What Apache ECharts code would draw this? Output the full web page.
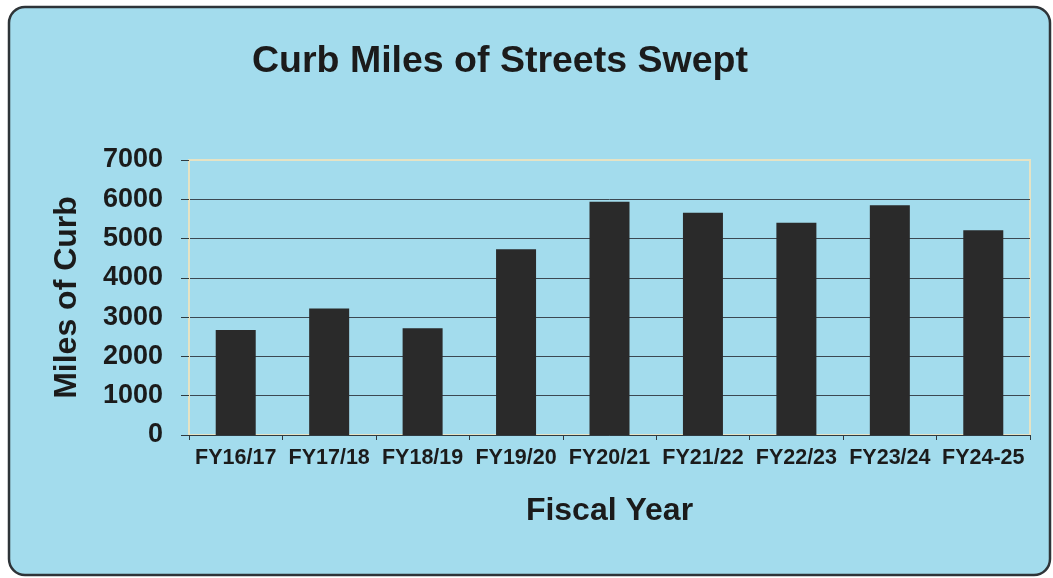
<!DOCTYPE html>
<html>
<head>
<meta charset="utf-8">
<title>Curb Miles of Streets Swept</title>
<script src="https://cdn.jsdelivr.net/npm/echarts@6/dist/echarts.min.js"></script>
<style>
  html, body { margin: 0; padding: 0; background: #ffffff; }
  #chart { width: 1053px; height: 578px; }
</style>
</head>
<body>
<div id="chart"></div>
<script>
// Fiscal years and curb miles swept in each
const fiscalYears = ['FY16/17', 'FY17/18', 'FY18/19', 'FY19/20', 'FY20/21', 'FY21/22', 'FY22/23', 'FY23/24', 'FY24-25'];
const curbMiles = [2670, 3220, 2715, 4730, 5935, 5655, 5400, 5850, 5215];
const yTicks = [0, 1000, 2000, 3000, 4000, 5000, 6000, 7000];

const FONT = '"Liberation Sans", Arial, sans-serif';
const INK = '#1b1b1b';

const chart = echarts.init(document.getElementById('chart'), null, { renderer: 'canvas' });

// gridlines are dark except the top one, which is part of the pale plot frame
const splitColors = yTicks.map((v, i) => (i === yTicks.length - 1 ? '#e6e3c4' : '#3b4852'));

chart.setOption({
  backgroundColor: '#ffffff',
  animation: false,
  graphic: [{
    type: 'rect',
    z: -10,
    silent: true,
    shape: { x: 9, y: 7, width: 1041, height: 568, r: 16 },
    style: { fill: '#a3dced', stroke: '#2e3438', lineWidth: 2.5 }
  }],
  title: {
    text: 'Curb Miles of Streets Swept',
    left: 247,
    top: 38,
    textStyle: { fontFamily: FONT, fontWeight: 'bold', fontSize: 37.5, color: INK }
  },
  grid: {
    left: 189,
    right: 23,
    top: 160,
    bottom: 143,
    show: true,
    backgroundColor: 'transparent',
    borderColor: '#e6e3c4',
    borderWidth: 2
  },
  xAxis: {
    type: 'category',
    data: fiscalYears,
    name: 'Fiscal Year',
    nameLocation: 'middle',
    nameGap: 60,
    nameTextStyle: { fontFamily: FONT, fontWeight: 'bold', fontSize: 32, color: INK },
    axisLine: { show: true, lineStyle: { color: '#2f3a40', width: 1 } },
    axisTick: { show: true, length: 5, lineStyle: { color: '#2f3a40' } },
    axisLabel: {
      interval: 0,
      hideOverlap: false,
      margin: 12,
      fontFamily: FONT,
      fontWeight: 'bold',
      fontSize: 21.5,
      color: INK
    }
  },
  yAxis: {
    type: 'value',
    min: 0,
    max: 7000,
    interval: 1000,
    name: 'Miles of Curb',
    nameLocation: 'middle',
    nameGap: 106,
    nameTextStyle: { fontFamily: FONT, fontWeight: 'bold', fontSize: 32, color: INK },
    axisLine: { show: true, lineStyle: { color: '#e6e3c4', width: 2 } },
    axisTick: { show: true, inside: false, length: 8, lineStyle: { color: '#2f3a40' } },
    axisLabel: {
      margin: 26,
      fontFamily: FONT,
      fontWeight: 'bold',
      fontSize: 27,
      color: INK,
      formatter: (v) => String(v)
    },
    splitLine: { show: true, lineStyle: { color: splitColors, width: 1 } }
  },
  series: [{
    type: 'bar',
    data: curbMiles,
    barWidth: 40,
    itemStyle: { color: '#2a2a2a' }
  }]
});
</script>
</body>
</html>
